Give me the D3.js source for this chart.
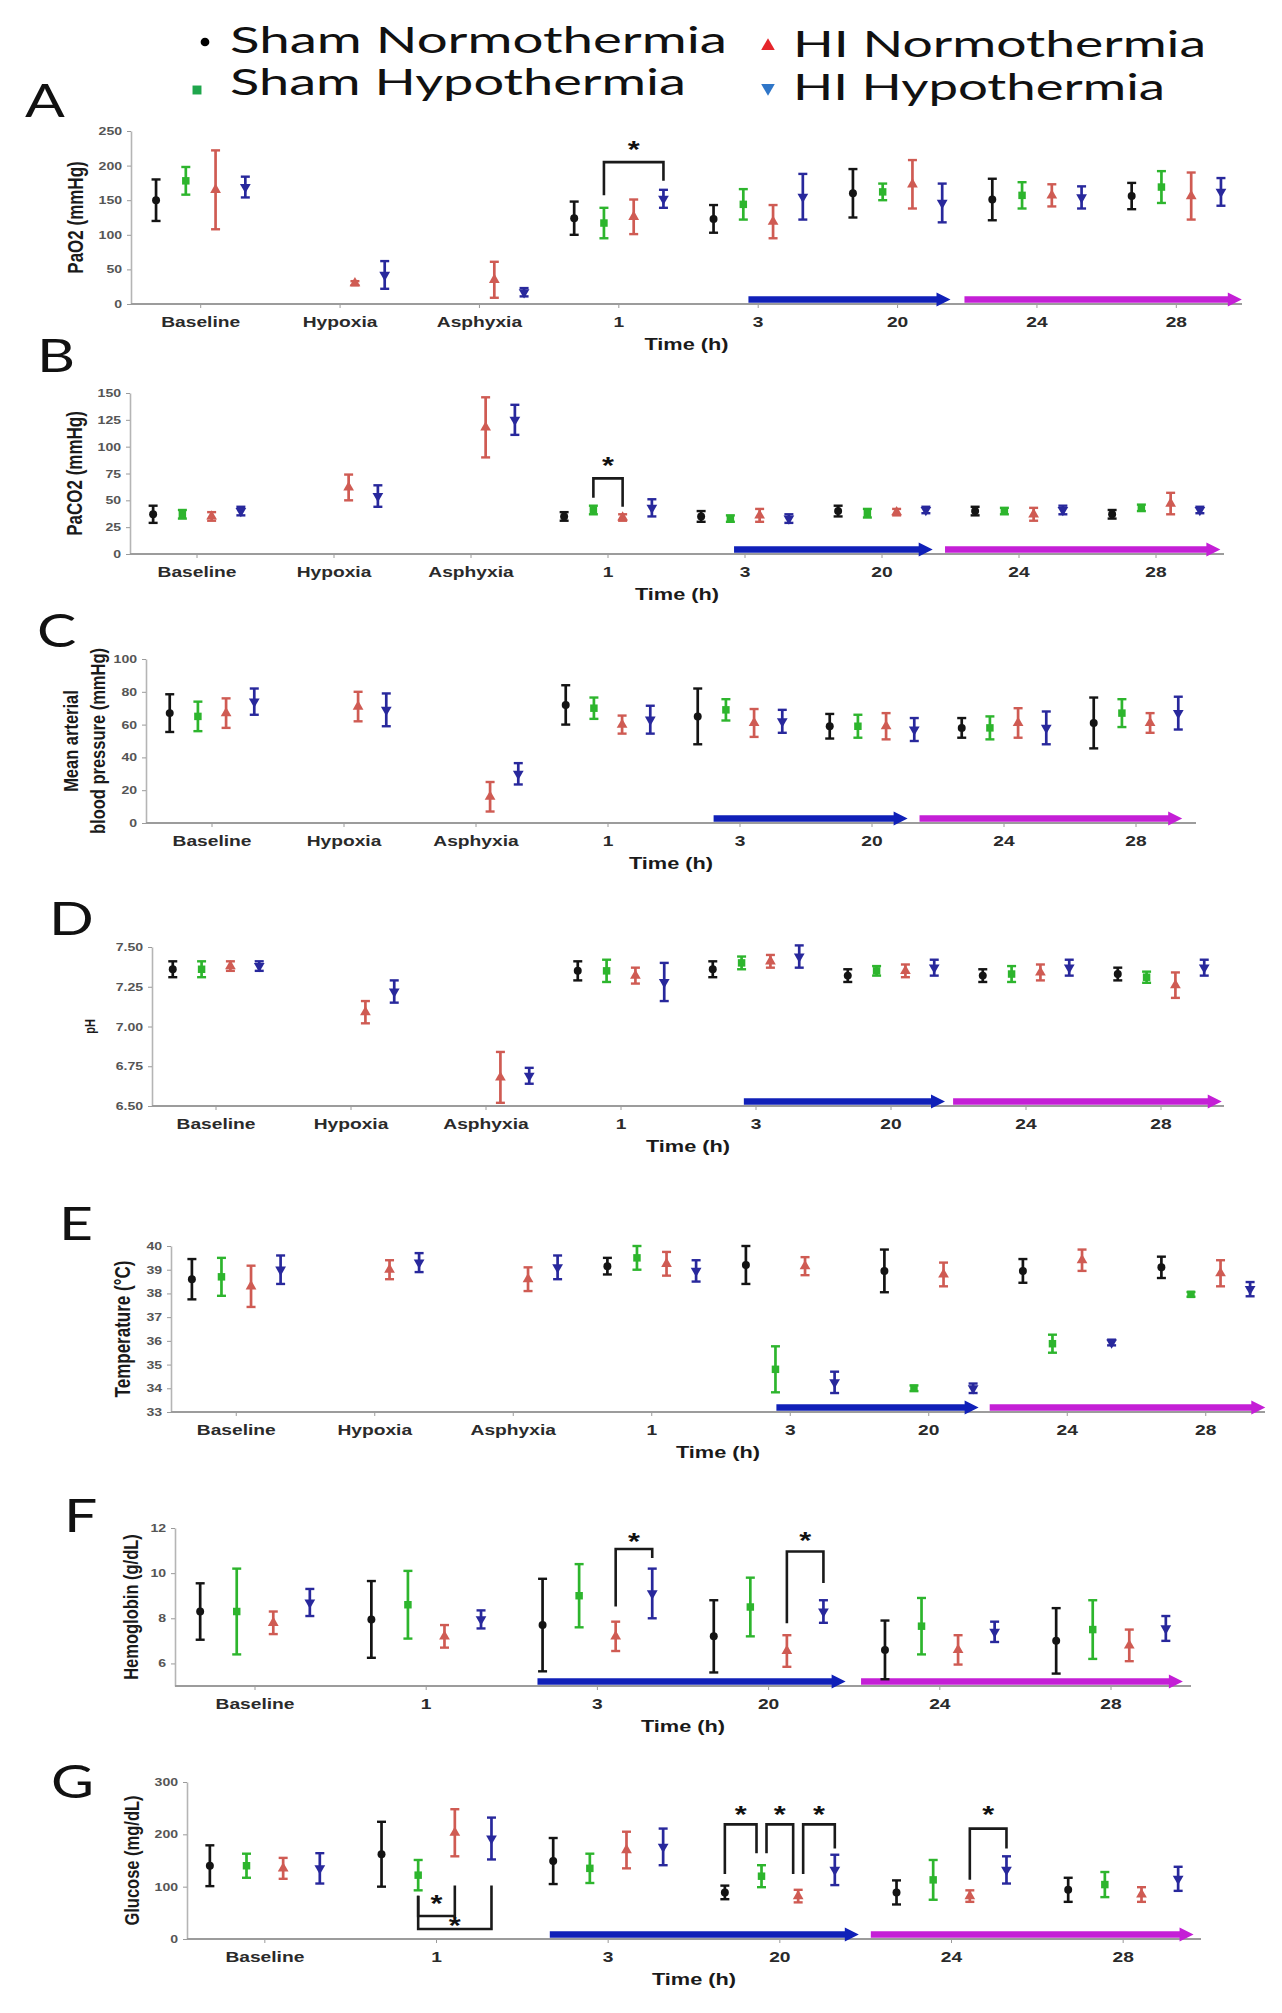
<!DOCTYPE html>
<html>
<head>
<meta charset="utf-8">
<script src="https://cdn.jsdelivr.net/npm/d3@7"></script>
<style>
  body { margin: 0; background: #fff; }
  svg text { font-family: "Liberation Sans", Arial, sans-serif; }
</style>
</head>
<body>
<svg id="chart" width="1282" height="2013"></svg>
<script>
// the published figure is stretched sideways, text is widened to match
const SX = 1.28;

const groups = ["Sham Normothermia", "Sham Hypothermia", "HI Normothermia", "HI Hypothermia"];
const groupColors = ["#141414", "#2db52d", "#cf5b53", "#28289c"];
const legendColors = ["#000000", "#1fa64c", "#e5252b", "#2f76c8"];
const symbols = [d3.symbolCircle, d3.symbolSquare, d3.symbolTriangle, d3.symbolTriangle];

const catsLong = ["Baseline", "Hypoxia", "Asphyxia", "1", "3", "20", "24", "28"];
const catsShort = ["Baseline", "1", "3", "20", "24", "28"];

// A - PaO2 (mmHg), mean and error per group
const paO2Mean = [
  [150, null, null, 124, 123, 160, 151, 156],
  [178, null, null, 117, 144, 162, 157, 169],
  [165, 30, 35, 126, 119, 173, 157, 156],
  [169, 42, 17, 152, 155, 146, 154, 162]
];
const paO2Err = [
  [30, null, null, 24, 20, 35, 30, 19],
  [20, null, null, 22, 22, 12, 19, 23],
  [57, 3, 26, 25, 24, 35, 16, 34],
  [15, 20, 6, 13, 33, 28, 16, 20]
];
const paO2Ticks = [0, 50, 100, 150, 200, 250];
// [time, group, group, bar, leg, leg, star]
const paO2Sig = [["1", 1, 3, 205, 157, 178, 230]];

// B - PaCO2 (mmHg)
const paCO2Mean = [
  [37, null, null, 35, 35, 40, 40, 37],
  [37, null, null, 41, 33, 38, 40, 43],
  [35, 62, 118, 34, 36, 39, 37, 47],
  [40, 54, 125, 43, 33, 41, 41, 41]
];
const paCO2Err = [
  [8, null, null, 4, 5, 5, 4, 4],
  [4, null, null, 4, 3, 4, 3, 3],
  [4, 12, 28, 3, 6, 3, 6, 10],
  [4, 10, 14, 8, 4, 3, 4, 3]
];
const paCO2Ticks = [0, 25, 50, 75, 100, 125, 150];
const paCO2Sig = [["1", 1, 2, 70.5, 52.5, 44, 86.6]];

// C - mean arterial blood pressure (mmHg)
const mabpMean = [
  [67, null, null, 72, 65, 59, 58, 61],
  [65, null, null, 70, 69, 59, 58, 67],
  [67, 71, 16, 60, 61, 59, 61, 61],
  [74, 69, 30, 63, 62, 57, 58, 67]
];
const mabpErr = [
  [11.5, null, null, 12, 17, 7.5, 6, 15.5],
  [9, null, null, 6.5, 6.5, 7, 7, 8.5],
  [9, 9, 9, 5.5, 8.5, 8, 9, 6],
  [8, 10, 6.5, 8.5, 7, 7, 10, 10]
];
const mabpTicks = [0, 20, 40, 60, 80, 100];

// D - pH
const phMean = [
  [7.36, null, null, 7.35, 7.36, 7.32, 7.32, 7.33],
  [7.36, null, null, 7.35, 7.40, 7.35, 7.33, 7.31],
  [7.38, 7.09, 6.68, 7.32, 7.41, 7.35, 7.34, 7.26],
  [7.38, 7.22, 6.69, 7.28, 7.44, 7.37, 7.37, 7.37]
];
const phErr = [
  [0.05, null, null, 0.06, 0.05, 0.04, 0.04, 0.04],
  [0.05, null, null, 0.07, 0.04, 0.03, 0.05, 0.035],
  [0.03, 0.07, 0.16, 0.05, 0.04, 0.04, 0.05, 0.08],
  [0.03, 0.07, 0.05, 0.12, 0.07, 0.05, 0.05, 0.05]
];
const phTicks = [6.5, 6.75, 7.0, 7.25, 7.5];

// E - temperature (°C)
const tempMean = [
  [38.6, null, null, 39.15, 39.2, 38.95, 38.95, 39.1],
  [38.7, null, null, 39.5, 34.8, 34.0, 35.88, 37.96],
  [38.3, 39.0, 38.6, 39.25, 39.15, 38.8, 39.4, 38.85],
  [39.0, 39.3, 39.1, 38.95, 34.25, 34.0, 35.93, 38.18]
];
const tempErr = [
  [0.85, null, null, 0.35, 0.8, 0.9, 0.5, 0.45],
  [0.8, null, null, 0.5, 0.97, 0.12, 0.38, 0.1],
  [0.87, 0.4, 0.5, 0.5, 0.38, 0.5, 0.45, 0.55],
  [0.6, 0.4, 0.5, 0.45, 0.45, 0.2, 0.12, 0.3]
];
const tempTicks = [33, 34, 35, 36, 37, 38, 39, 40];

// F - hemoglobin (g/dL)
const hbMean = [
  [8.3, 7.95, 7.7, 7.2, 6.6, 7.0],
  [8.3, 8.6, 9.0, 8.5, 7.65, 7.5],
  [7.8, 7.2, 7.2, 6.55, 6.6, 6.8],
  [8.7, 7.95, 9.1, 8.3, 7.4, 7.55]
];
const hbErr = [
  [1.25, 1.7, 2.05, 1.6, 1.3, 1.45],
  [1.9, 1.5, 1.4, 1.3, 1.25, 1.3],
  [0.5, 0.5, 0.65, 0.7, 0.65, 0.7],
  [0.6, 0.4, 1.1, 0.5, 0.45, 0.55]
];
const hbTicks = [6, 8, 10, 12];
const hbSig = [["3", 2, 3, 11.07, 8.52, 10.67, 11.6], ["20", 2, 3, 10.96, 7.78, 9.56, 11.66]];

// G - glucose (mg/dL)
const gluMean = [
  [140, 162, 149, 89, 89, 94],
  [140, 122, 135, 120, 113, 104],
  [135, 203, 170, 82, 82, 85],
  [135, 192, 176, 132, 132, 115]
];
const gluErr = [
  [39, 62, 44, 13, 23, 23],
  [23, 29, 28, 21, 38, 24],
  [20, 45, 35, 12, 11, 14],
  [29, 40, 35, 29, 26, 23]
];
const gluTicks = [0, 100, 200, 300];
const gluSig = [
  ["1", 1, 2, 44, 82.7, 102, 77], ["1", 1, 3, 19, 82.7, 102, 35],
  ["20", 0, 1, 219, 124, 164, 246], ["20", 1, 2, 219, 164, 124, 246], ["20", 2, 3, 219, 124, 173, 246],
  ["24", 2, 3, 211, 113, 173, 247]
];

// layout of the seven panels (pixels); arrows are in category steps
const panels = [
  { letter: "A", lx: 25, ly: 117, cats: catsLong, mean: paO2Mean, err: paO2Err, ticks: paO2Ticks, fmt: d3.format("d"),
    domain: [0, 250], yr: [304, 131], band: [131, 1246], axis: [131, 1242], labels: ["PaO2 (mmHg)"], labelX: [75], labelSize: 17,
    arrows: [[4.43, 5.88], [5.98, 7.97]], sig: paO2Sig },
  { letter: "B", lx: 37, ly: 372, cats: catsLong, mean: paCO2Mean, err: paCO2Err, ticks: paCO2Ticks, fmt: d3.format("d"),
    domain: [0, 150], yr: [554, 393], band: [128.5, 1224.5], axis: [130, 1224], labels: ["PaCO2 (mmHg)"], labelX: [74], labelSize: 17,
    arrows: [[4.42, 5.87], [5.96, 7.97]], sig: paCO2Sig },
  { letter: "C", lx: 37, ly: 647, cats: catsLong, mean: mabpMean, err: mabpErr, ticks: mabpTicks, fmt: d3.format("d"),
    domain: [0, 100], yr: [823, 659], band: [146, 1202], axis: [146, 1196], labels: ["Mean arterial", "blood pressure (mmHg)"], labelX: [70, 97], labelSize: 16.5,
    arrows: [[4.30, 5.77], [5.86, 7.85]], sig: [] },
  { letter: "D", lx: 49, ly: 935, cats: catsLong, mean: phMean, err: phErr, ticks: phTicks, fmt: d3.format(".2f"),
    domain: [6.5, 7.5], yr: [1106, 947], band: [148.5, 1228.5], axis: [152, 1224], labels: ["pH"], labelX: [90], labelSize: 11,
    arrows: [[4.41, 5.90], [5.96, 7.95]], sig: [] },
  { letter: "E", lx: 59, ly: 1240, cats: catsLong, mean: tempMean, err: tempErr, ticks: tempTicks, fmt: d3.format("d"),
    domain: [33, 40], yr: [1412, 1246], band: [167, 1275], axis: [171, 1265], labels: ["Temperature (°C)"], labelX: [122], labelSize: 17,
    arrows: [[4.40, 5.86], [5.94, 7.93]], sig: [] },
  { letter: "F", lx: 64, ly: 1532, cats: catsShort, mean: hbMean, err: hbErr, ticks: hbTicks, fmt: d3.format("d"),
    domain: [5, 12], yr: [1686, 1528], band: [169.4, 1196.6], axis: [175, 1191], labels: ["Hemoglobin (g/dL)"], labelX: [130], labelSize: 16.5,
    arrows: [[2.15, 3.95], [4.04, 5.92]], sig: hbSig },
  { letter: "G", lx: 51, ly: 1798, cats: catsShort, mean: gluMean, err: gluErr, ticks: gluTicks, fmt: d3.format("d"),
    domain: [0, 300], yr: [1939, 1782], band: [179, 1209], axis: [187, 1201], labels: ["Glucose (mg/dL)"], labelX: [131], labelSize: 16.5,
    arrows: [[2.16, 3.96], [4.03, 5.91]], sig: gluSig }
];

const svg = d3.select("#chart");

function addText(parent, x, y, str, size, o = {}) {
  return parent.append("text")
    .attr("transform", `translate(${x},${y}) scale(${SX},1)` + (o.rotate ? ` rotate(${o.rotate})` : ""))
    .attr("text-anchor", o.anchor || "start")
    .attr("font-size", size)
    .attr("font-weight", o.weight || "bold")
    .attr("fill", o.fill || "#222")
    .attr("dy", o.dy || null)
    .style("font-family", o.family || null)
    .text(str);
}

function drawArrow(g, x1, x2, yy, color) {
  g.append("line")
    .attr("x1", x1).attr("x2", x2 - 10).attr("y1", yy).attr("y2", yy)
    .attr("stroke", color).attr("stroke-width", 6.5);
  g.append("path")
    .attr("d", `M${x2 - 14},${yy - 7}L${x2},${yy}L${x2 - 14},${yy + 7}Z`)
    .attr("fill", color);
}

// legend
const legendPos = [[205, 42, 230, 53, 497], [197, 90, 230, 95, 456], [768, 46, 793, 57, 413], [768, 88, 793, 100, 372]];
groups.forEach((name, i) => {
  const [mx, my, tx, ty, w] = legendPos[i];
  svg.append("path")
    .attr("transform", `translate(${mx},${my})` + (i === 3 ? " rotate(180)" : ""))
    .attr("d", d3.symbol(symbols[i], i === 0 ? 60 : 80)())
    .attr("fill", legendColors[i]);
  svg.append("text")
    .attr("x", tx).attr("y", ty)
    .attr("font-size", 37)
    .attr("textLength", w)
    .attr("lengthAdjust", "spacingAndGlyphs")
    .attr("fill", "#111")
    .style("font-family", "Lato, 'Open Sans', sans-serif")
    .text(name);
});

panels.forEach(p => {
  const g = svg.append("g");
  const x = d3.scaleBand().domain(p.cats).range(p.band);
  const inner = d3.scaleBand().domain(d3.range(4)).range([-0.427 * x.step(), 0.427 * x.step()]);
  const y = d3.scaleLinear().domain(p.domain).range(p.yr);
  const y0 = p.yr[0];
  const cx = (c, gi) => x(c) + x.bandwidth() / 2 + inner(gi) + inner.bandwidth() / 2;
  const atStep = u => p.band[0] + u * x.step();

  // panel letter
  addText(g, p.lx, p.ly, p.letter, 46, { weight: "normal", fill: "#111", family: "Lato, sans-serif" });

  // y axis
  const ya = g.append("g")
    .attr("transform", `translate(${p.axis[0]},0)`)
    .call(d3.axisLeft(y).tickValues(p.ticks).tickFormat(p.fmt).tickSize(4).tickSizeOuter(0).tickPadding(3));
  ya.select(".domain").attr("stroke", "#b5b5b5").attr("stroke-width", 1.6);
  ya.selectAll(".tick line").attr("stroke", "#9a9a9a");
  ya.selectAll(".tick text")
    .attr("transform", `scale(${SX},1)`)
    .attr("font-size", 11).attr("font-weight", "bold").attr("fill", "#555");

  // x axis
  const xa = g.append("g")
    .attr("transform", `translate(0,${y0})`)
    .call(d3.axisBottom(x).tickSize(4).tickPadding(8));
  xa.select(".domain").remove();
  xa.selectAll(".tick line").attr("stroke", "#9a9a9a");
  xa.selectAll(".tick text")
    .attr("transform", `scale(${SX},1)`)
    .attr("font-size", 15).attr("font-weight", "bold").attr("fill", "#2a2a2a");
  g.append("line")
    .attr("x1", p.axis[0]).attr("x2", p.axis[1]).attr("y1", y0).attr("y2", y0)
    .attr("stroke", "#9c9c9c").attr("stroke-width", 2);

  // axis titles
  addText(g, (p.axis[0] + p.axis[1]) / 2, y0 + 46, "Time (h)", 17, { anchor: "middle", fill: "#1a1a1a" });
  const midY = (p.yr[0] + p.yr[1]) / 2;
  p.labels.forEach((lab, i) => {
    addText(g, p.labelX[i], midY, lab, p.labelSize, { anchor: "middle", rotate: -90, dy: "0.36em", fill: "#1a1a1a" });
  });

  // hypothermia and rewarming arrows
  drawArrow(g, atStep(p.arrows[0][0]), atStep(p.arrows[0][1]), y0 - 4.5, "#1020b8");
  drawArrow(g, atStep(p.arrows[1][0]), atStep(p.arrows[1][1]), y0 - 4.5, "#c41fd6");

  // points with error bars
  const rows = [];
  p.mean.forEach((series, gi) => series.forEach((m, ci) => {
    if (m != null) rows.push({ gi, cat: p.cats[ci], m, e: p.err[gi][ci] });
  }));
  const pt = g.selectAll("g.pt").data(rows).enter().append("g")
    .attr("class", "pt")
    .attr("transform", d => `translate(${cx(d.cat, d.gi)},0)`);
  pt.append("line")
    .attr("y1", d => y(d.m - d.e)).attr("y2", d => y(d.m + d.e))
    .attr("stroke", d => groupColors[d.gi]).attr("stroke-width", 2.7);
  pt.selectAll("line.cap").data(d => [d.m - d.e, d.m + d.e].map(v => ({ v, gi: d.gi })))
    .enter().append("line").attr("class", "cap")
    .attr("x1", -4.5).attr("x2", 4.5)
    .attr("y1", d => y(d.v)).attr("y2", d => y(d.v))
    .attr("stroke", d => groupColors[d.gi]).attr("stroke-width", 2.4);
  pt.append("path")
    .attr("transform", d => `translate(0,${y(d.m)})` + (d.gi === 3 ? " rotate(180)" : ""))
    .attr("d", d => d3.symbol(symbols[d.gi], d.gi === 1 ? 56 : 50)())
    .attr("fill", d => groupColors[d.gi]);

  // significance brackets
  p.sig.forEach((b, bi) => {
    const [cat, g1, g2, bar, leg1, leg2, star] = b;
    const others = p.sig.filter((o, oi) => oi !== bi && o[0] === cat);
    const x1 = cx(cat, g1) + (others.some(o => o[2] === g1) ? 5 : 0);
    const x2 = cx(cat, g2) - (others.some(o => o[1] === g2) ? 5 : 0);
    g.append("path")
      .attr("d", `M${x1},${y(leg1)}V${y(bar)}H${x2}V${y(leg2)}`)
      .attr("fill", "none").attr("stroke", "#1a1a1a").attr("stroke-width", 2.6);
    addText(g, (x1 + x2) / 2, y(star) + 13, "*", 24, { anchor: "middle", fill: "#111" });
  });
});
</script>
</body>
</html>
